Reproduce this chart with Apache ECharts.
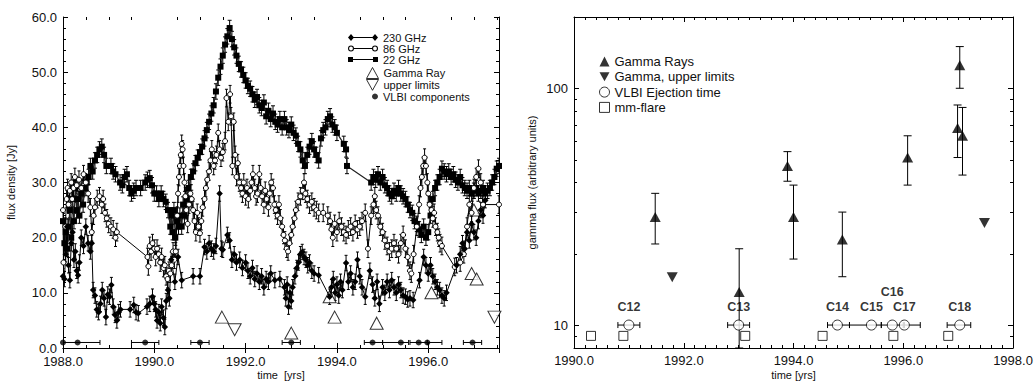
<!DOCTYPE html>
<html>
<head>
<meta charset="utf-8">
<script src="https://cdn.jsdelivr.net/npm/echarts@6/dist/echarts.min.js"></script>
<style>
  html, body { margin: 0; padding: 0; background: #fff; }
  #chart { width: 1034px; height: 381px; }
</style>
</head>
<body>
<div id="chart"></div>
<script>
// ---- left panel: radio light curves [year, Jy] ----
const flux22 = [
  [1988.00,23],[1988.03,19],[1988.06,21],[1988.09,18],[1988.12,22],[1988.15,25],[1988.18,20],[1988.21,27],
  [1988.24,23],[1988.27,29],[1988.30,25],[1988.33,27],[1988.36,24],[1988.40,28],[1988.44,26],[1988.48,29],
  [1988.52,30],[1988.56,31],[1988.60,33],[1988.65,32],[1988.70,34],[1988.75,35],[1988.80,36],[1988.85,36.5],
  [1988.90,35],[1988.95,33],[1989.05,33],[1989.10,32],[1989.15,31.5],[1989.25,30],[1989.30,29.5],[1989.35,31],
  [1989.40,31.5],[1989.45,29],[1989.50,28],[1989.55,28.5],[1989.60,29],[1989.70,29],[1989.80,30],[1989.85,30.5],
  [1989.90,30.8],[1989.95,29.5],[1990.00,28],[1990.05,28],[1990.10,27],[1990.15,28],[1990.20,27],[1990.25,26.5],
  [1990.30,25],[1990.35,22],[1990.38,24],[1990.40,21],[1990.43,25],[1990.46,20],[1990.50,23],[1990.53,22],
  [1990.56,24],[1990.60,22],[1990.63,26],[1990.66,24],[1990.70,27],[1990.75,29],[1990.80,31],[1990.85,32],
  [1990.90,33.5],[1990.95,34.5],[1991.00,35.5],[1991.05,36.5],[1991.10,38],[1991.15,39.5],[1991.20,41],[1991.25,42.5],
  [1991.30,44],[1991.35,46.5],[1991.40,49],[1991.45,51],[1991.50,53],[1991.55,55],[1991.60,56.5],[1991.65,58],
  [1991.70,56],[1991.75,54.5],[1991.80,53],[1991.85,51.5],[1991.90,50.5],[1991.95,49.5],[1992.00,48.5],[1992.05,47.5],
  [1992.10,47],[1992.15,46],[1992.20,45],[1992.25,45.5],[1992.30,44],[1992.35,43.5],[1992.40,44.5],[1992.45,42],
  [1992.50,43],[1992.55,41.5],[1992.60,42.5],[1992.65,41],[1992.70,40.5],[1992.75,41.5],[1992.80,40],[1992.85,41.5],
  [1992.90,40],[1992.95,39.5],[1993.00,40.5],[1993.05,39],[1993.10,38.5],[1993.15,37],[1993.20,36],[1993.25,34],
  [1993.30,33],[1993.35,35],[1993.40,36.5],[1993.45,37.5],[1993.50,36],[1993.55,35],[1993.60,34],[1993.65,38],
  [1993.70,39.5],[1993.75,40],[1993.80,41.5],[1993.85,42],[1993.90,40.5],[1993.95,40],[1994.00,39],[1994.15,37],
  [1994.20,36],[1994.22,33],[1994.75,30],[1994.80,31],[1994.85,30.5],[1994.90,31.5],[1994.95,30],[1995.00,31],
  [1995.05,29.5],[1995.10,29],[1995.15,28],[1995.20,27.5],[1995.25,28.5],[1995.30,28],[1995.35,29],[1995.40,28],
  [1995.45,27.5],[1995.50,27],[1995.55,26],[1995.60,25],[1995.65,24.5],[1995.70,23],[1995.75,22.5],[1995.80,21.5],
  [1995.85,20.5],[1995.90,22],[1995.95,20],[1996.00,21],[1996.05,24],[1996.10,27],[1996.15,29],[1996.20,30],
  [1996.25,31],[1996.30,32.5],[1996.35,32],[1996.40,31.5],[1996.45,32],[1996.50,31],[1996.55,31.5],[1996.60,30.5],
  [1996.65,30],[1996.70,31],[1996.75,29.5],[1996.80,29],[1996.85,28.5],[1996.90,29],[1996.95,28],[1997.00,28.5],
  [1997.05,29],[1997.10,28],[1997.15,28.5],[1997.20,29],[1997.25,28],[1997.30,28.5],[1997.35,29],[1997.40,30],
  [1997.45,31],[1997.50,32.5],[1997.55,33]
];
const flux86 = [
  [1988.00,25],[1988.01,15.5],[1988.05,22],[1988.08,27],[1988.10,29],[1988.12,26],[1988.15,28.5],[1988.18,30],
  [1988.20,27],[1988.23,29],[1988.26,31],[1988.30,29.5],[1988.35,30.5],[1988.40,29],[1988.45,31.5],[1988.50,30],
  [1988.55,28],[1988.60,25.5],[1988.63,21],[1988.67,24],[1988.70,25.5],[1988.75,27],[1988.80,27.5],[1988.85,26],
  [1988.88,27],[1988.92,24.5],[1988.96,23.5],[1989.00,22.5],[1989.05,22],[1989.10,21.5],[1989.15,20],[1989.18,21],
  [1989.85,16.5],[1989.87,14.8],[1989.90,18.5],[1989.93,17.5],[1989.96,19],[1990.00,18],[1990.03,16.5],[1990.06,18],
  [1990.10,17],[1990.13,15.5],[1990.16,16.5],[1990.20,14.5],[1990.23,15],[1990.26,13],[1990.29,12.5],[1990.32,14],
  [1990.35,13.5],[1990.38,15],[1990.41,17.5],[1990.44,16],[1990.47,17.5],[1990.50,24],[1990.52,28],[1990.54,31],
  [1990.56,33],[1990.58,35],[1990.60,37],[1990.62,36],[1990.64,33],[1990.66,30],[1990.68,27.5],[1990.70,25],
  [1990.73,22.5],[1990.76,26],[1990.79,28],[1990.82,27],[1990.85,25],[1990.88,23],[1990.91,21],[1990.94,24.5],
  [1990.97,22],[1991.00,20.8],[1991.03,23],[1991.06,25.5],[1991.10,27],[1991.13,29],[1991.16,30.5],[1991.20,32],
  [1991.23,34],[1991.26,36],[1991.30,33],[1991.33,34],[1991.36,35],[1991.40,39],[1991.43,36],[1991.46,34.5],
  [1991.50,35.5],[1991.55,37.5],[1991.58,45.3],[1991.62,41],[1991.66,46],[1991.68,42],[1991.71,33],[1991.74,41],
  [1991.77,35],[1991.80,31],[1991.83,33.5],[1991.86,30],[1991.90,29],[1991.93,28],[1991.96,30],[1992.00,27.5],
  [1992.03,29],[1992.06,27],[1992.10,28.5],[1992.13,30],[1992.16,31.5],[1992.20,29],[1992.23,27.5],[1992.26,28],
  [1992.30,31.5],[1992.33,29],[1992.36,27.5],[1992.40,26],[1992.43,28.5],[1992.46,27],[1992.50,25.5],[1992.53,28],
  [1992.56,30],[1992.60,29],[1992.63,26],[1992.66,25],[1992.70,24],[1992.73,26],[1992.76,23.5],[1992.80,22],
  [1992.83,20.5],[1992.86,19.5],[1992.90,18],[1992.93,17.5],[1992.96,19],[1993.00,20.5],[1993.03,22],[1993.07,23.5],
  [1993.10,25],[1993.15,26.5],[1993.20,27.5],[1993.25,28.5],[1993.28,30],[1993.31,28],[1993.35,27],[1993.40,26],
  [1993.45,26.5],[1993.50,25.5],[1993.55,25],[1993.60,24.5],[1993.70,24.5],[1993.80,24],[1993.85,23],[1993.88,21.5],
  [1993.91,20],[1993.95,22.5],[1994.00,21],[1994.05,23],[1994.10,22],[1994.15,21],[1994.20,20.5],[1994.25,21.5],
  [1994.30,22],[1994.35,21],[1994.40,22.5],[1994.45,21.5],[1994.50,22],[1994.55,23],[1994.62,24.5],[1994.68,18],
  [1994.75,24],[1994.80,26],[1994.83,27.5],[1994.86,25],[1994.90,24],[1994.95,22],[1995.00,21],[1995.05,19.5],
  [1995.10,18.5],[1995.15,17.5],[1995.20,18],[1995.25,19],[1995.30,18],[1995.35,17],[1995.40,19],[1995.45,20.5],
  [1995.50,18],[1995.55,16.5],[1995.60,14],[1995.63,13.5],[1995.68,17],[1995.75,22],[1995.80,26],[1995.83,29],
  [1995.86,31],[1995.89,33],[1995.92,34.5],[1995.95,33],[1995.98,30],[1996.00,28],[1996.03,26],[1996.07,25],
  [1996.10,23.5],[1996.13,24.5],[1996.16,22],[1996.20,21],[1996.23,20],[1996.26,19],[1996.30,18.5],[1996.58,14.7],
  [1996.70,15.5],[1996.78,17],[1996.85,22],[1996.90,26],[1996.95,24.5],[1997.00,29],[1997.05,31],[1997.10,32.5],
  [1997.15,30],[1997.20,26],[1997.55,26]
];
const flux230 = [
  [1988.00,13],[1988.03,12.5],[1988.06,17],[1988.09,22],[1988.12,15],[1988.15,12.3],[1988.18,19],[1988.21,21],
  [1988.24,16],[1988.27,17.5],[1988.30,14],[1988.33,13.2],[1988.36,15.5],[1988.40,20],[1988.45,18.5],[1988.50,22],
  [1988.55,19],[1988.60,17.5],[1988.63,19],[1988.66,10.5],[1988.70,9.5],[1988.74,7],[1988.78,6.5],[1988.82,8],
  [1988.86,10.5],[1988.90,9],[1988.94,5.6],[1988.98,9.7],[1989.02,9.3],[1989.06,11.4],[1989.10,7.5],[1989.14,6],
  [1989.18,5],[1989.22,6.5],[1989.26,7],[1989.47,7],[1989.55,7.8],[1989.60,6.5],[1989.65,6.3],[1989.84,7.5],
  [1989.90,8],[1989.96,9.3],[1990.00,8],[1990.03,7],[1990.06,5],[1990.10,6.5],[1990.13,4.5],[1990.16,7.5],
  [1990.20,5.5],[1990.23,3.8],[1990.26,8.5],[1990.30,10.5],[1990.33,9],[1990.37,16],[1990.45,12],[1990.52,16.5],
  [1990.60,12.3],[1990.85,13],[1991.00,13],[1991.10,18.3],[1991.15,17.5],[1991.20,19],[1991.25,18],[1991.30,17.5],
  [1991.35,18.5],[1991.43,28],[1991.47,18],[1991.50,17.8],[1991.60,20.5],[1991.65,19.5],[1991.70,16],[1991.75,17],
  [1991.80,15.5],[1991.87,16],[1991.93,14.5],[1992.00,15.5],[1992.05,14],[1992.10,13],[1992.15,14.5],[1992.20,12.5],
  [1992.25,13.5],[1992.30,12],[1992.35,13],[1992.40,11],[1992.45,12.5],[1992.50,12],[1992.55,13.5],[1992.64,12.3],
  [1992.75,12.5],[1992.85,11],[1992.88,9],[1992.91,11.5],[1992.94,7.5],[1992.97,10],[1993.00,8.5],[1993.03,11],
  [1993.08,13],[1993.12,14.5],[1993.16,15.5],[1993.20,17],[1993.24,17.4],[1993.28,16.5],[1993.32,16],[1993.36,15],
  [1993.40,15.5],[1993.45,14],[1993.50,13.5],[1993.60,13.2],[1993.84,9.3],[1993.88,11],[1993.92,12.5],[1993.96,10],
  [1994.00,11.5],[1994.04,9.5],[1994.08,12],[1994.12,10.5],[1994.20,15.4],[1994.25,12],[1994.30,13.5],[1994.35,11],
  [1994.40,12],[1994.45,16],[1994.50,13],[1994.55,11],[1994.62,9.3],[1994.72,14],[1994.78,11.5],[1994.83,9],
  [1994.88,12],[1994.93,8],[1995.00,11],[1995.05,10],[1995.10,12],[1995.15,10.5],[1995.20,12.3],[1995.25,11],
  [1995.30,10],[1995.35,11.5],[1995.40,10.5],[1995.45,9.5],[1995.50,9.3],[1995.55,8.8],[1995.60,9],[1995.67,8.7],
  [1995.81,12.3],[1995.90,16.5],[1995.95,15],[1996.00,13.5],[1996.05,15],[1996.10,13],[1996.15,12],[1996.20,11],
  [1996.25,10.5],[1996.30,9.5],[1996.35,9],[1996.40,10],[1996.62,15],[1996.70,17],[1996.75,19],[1996.80,18],
  [1996.85,21],[1996.90,19.5],[1996.95,22.5],[1997.00,21],[1997.05,20],[1997.10,23],[1997.15,25],[1997.20,24],
  [1997.25,26.8]
];
// typical 1-sigma error of each light curve [Jy]
const err22 = 1.4;
const err86 = 1.6;
const err230 = 1.4;

// gamma-ray points scaled into the left panel [year, Jy]
const gammaLeft = [[1991.48,5.6],[1993.00,2.7],[1993.84,9.3],[1993.95,5.6],[1994.87,4.5],[1996.07,10],[1996.95,13.5],[1997.00,25],[1997.06,12.5]];
const gammaLimitLeft = [[1991.76,3.3],[1997.45,5.6]];

// VLBI components: ejection year with range
const vlbiLeftT = [1988.00, 1988.32, 1989.80, 1991.00, 1993.00, 1994.78, 1995.40, 1995.79, 1995.98, 1996.97];
const vlbiLeftLo = [1988.00, 1988.00, 1989.50, 1990.80, 1992.80, 1994.60, 1995.00, 1995.60, 1995.98, 1996.77];
const vlbiLeftHi = [1988.00, 1988.81, 1990.10, 1991.20, 1993.20, 1995.00, 1995.57, 1995.98, 1996.30, 1997.17];
const vlbiLeftY = 1.0;

// ---- right panel ----
const gammaT  = [1991.48, 1993.01, 1993.89, 1994.00, 1994.89, 1996.08, 1996.99, 1997.03, 1997.08];
const gammaV  = [28.6, 13.8, 47, 28.6, 23, 51, 68, 125, 63];
const gammaLo = [22, 8, 40.5, 19, 16, 39, 51, 100, 43];
const gammaHi = [36, 21, 54, 39, 30, 63, 85, 150, 83];
const limitT = [1991.79, 1997.48];
const limitV = [15.9, 27];

const vlbiNames = ['C12', 'C13', 'C14', 'C15', 'C16', 'C17', 'C18'];
const vlbiT  = [1991.00, 1993.00, 1994.80, 1995.42, 1995.80, 1996.02, 1997.03];
const vlbiLo = [1990.80, 1992.80, 1994.62, 1995.02, 1995.60, 1996.02, 1996.80];
const vlbiHi = [1991.20, 1993.20, 1995.02, 1995.60, 1996.00, 1996.31, 1997.23];
const vlbiY = 10;

const flareT = [1990.31, 1990.90, 1993.12, 1994.53, 1995.82, 1996.82];
const flareY = 9;

// tick positions not produced by the axes themselves
const leftMinorX = [1988.5,1989,1989.5,1990.5,1991,1991.5,1992.5,1993,1993.5,1994.5,1995,1995.5,1996.5,1997,1997.5];
const logMinorY = [9, 20, 30, 40, 50, 60, 70, 80, 90];

const FONT = "'Liberation Sans', Arial, Helvetica, sans-serif";
const INK = '#000';

const chart = echarts.init(document.getElementById('chart'), null, { renderer: 'svg' });

function lineStyleOf(w) { return { stroke: INK, lineWidth: w || 1 }; }

// vertical error bars: data [x, lo, hi]
function vBars(cap) {
  return function (params, api) {
    const x = api.value(0);
    const a = api.coord([x, api.value(1)]);
    const b = api.coord([x, api.value(2)]);
    const s = lineStyleOf(1);
    return { type: 'group', children: [
      { type: 'line', shape: { x1: a[0], y1: a[1], x2: b[0], y2: b[1] }, style: s },
      { type: 'line', shape: { x1: a[0] - cap, y1: a[1], x2: a[0] + cap, y2: a[1] }, style: s },
      { type: 'line', shape: { x1: b[0] - cap, y1: b[1], x2: b[0] + cap, y2: b[1] }, style: s }
    ] };
  };
}

// horizontal error bars: data [y, lo, hi]
function hBars(cap) {
  return function (params, api) {
    const y = api.value(0);
    const a = api.coord([api.value(1), y]);
    const b = api.coord([api.value(2), y]);
    const s = lineStyleOf(1);
    const kids = [{ type: 'line', shape: { x1: a[0], y1: a[1], x2: b[0], y2: b[1] }, style: s }];
    if (b[0] - a[0] > 1) {
      kids.push({ type: 'line', shape: { x1: a[0], y1: a[1] - cap, x2: a[0], y2: a[1] + cap }, style: s });
      kids.push({ type: 'line', shape: { x1: b[0], y1: b[1] - cap, x2: b[0], y2: b[1] + cap }, style: s });
    }
    return { type: 'group', children: kids };
  };
}

// extra inward ticks on both opposite edges of a grid
function edgeTicks(dir, len) {
  return function (params, api) {
    const cs = params.coordSys;
    const p = api.coord([api.value(0), api.value(1)]);
    const s = lineStyleOf(1);
    if (dir === 'x') {
      const x = Math.round(p[0]) + 0.5;
      return { type: 'group', children: [
        { type: 'line', shape: { x1: x, y1: cs.y + cs.height, x2: x, y2: cs.y + cs.height - len }, style: s },
        { type: 'line', shape: { x1: x, y1: cs.y, x2: x, y2: cs.y + len }, style: s }
      ] };
    }
    const y = Math.round(p[1]) + 0.5;
    return { type: 'group', children: [
      { type: 'line', shape: { x1: cs.x, y1: y, x2: cs.x + len, y2: y }, style: s },
      { type: 'line', shape: { x1: cs.x + cs.width, y1: y, x2: cs.x + cs.width - len, y2: y }, style: s }
    ] };
  };
}

const labelText = { color: '#111', fontSize: 13, lineHeight: 12, fontFamily: FONT };
const nameText = { color: '#111', fontSize: 11, lineHeight: 12, fontFamily: FONT };
const tickBase = { inside: true, length: 5, lineStyle: { color: INK } };
const minorBase = { inside: true, length: 3, lineStyle: { color: INK } };
const axisLineBase = { show: true, lineStyle: { color: INK, width: 1 } };

const fixed1 = v => v.toFixed(1);
const logLabel = v => { const r = Math.round(v); return (r === 10 || r === 100) ? String(r) : ''; };

const option = {
  animation: false,
  backgroundColor: '#fff',
  textStyle: { fontFamily: FONT },
  grid: [
    { left: 63, top: 17, width: 436, height: 331, outerBoundsMode: 'none', containLabel: false },
    { left: 574, top: 17, width: 439, height: 331, outerBoundsMode: 'none', containLabel: false }
  ],
  xAxis: [
    { gridIndex: 0, type: 'value', position: 'bottom', min: 1988, max: 1997.55, interval: 2,
      axisLine: axisLineBase, axisTick: tickBase, splitLine: { show: false },
      axisLabel: { ...labelText, formatter: fixed1, margin: 7, showMaxLabel: false },
      name: 'time  [yrs]', nameLocation: 'middle', nameGap: 20.5, nameMoveOverlap: false, nameTextStyle: nameText },
    { gridIndex: 0, type: 'value', position: 'top', min: 1988, max: 1997.55, interval: 2,
      axisLine: axisLineBase, axisTick: tickBase, splitLine: { show: false }, axisLabel: { show: false } },
    { gridIndex: 1, type: 'value', position: 'bottom', min: 1990, max: 1998, interval: 2,
      axisLine: axisLineBase, axisTick: tickBase, minorTick: { ...minorBase, show: true, splitNumber: 10 },
      splitLine: { show: false }, minorSplitLine: { show: false },
      axisLabel: { ...labelText, formatter: fixed1, margin: 6 },
      name: 'time [yrs]', nameLocation: 'middle', nameGap: 20.5, nameMoveOverlap: false, nameTextStyle: nameText },
    { gridIndex: 1, type: 'value', position: 'top', min: 1990, max: 1998, interval: 2,
      axisLine: axisLineBase, axisTick: tickBase, minorTick: { ...minorBase, show: true, splitNumber: 10 },
      splitLine: { show: false }, minorSplitLine: { show: false }, axisLabel: { show: false } }
  ],
  yAxis: [
    { gridIndex: 0, type: 'value', position: 'left', min: 0, max: 60, interval: 10,
      axisLine: axisLineBase, axisTick: tickBase, minorTick: { ...minorBase, show: true, splitNumber: 5 },
      splitLine: { show: false }, minorSplitLine: { show: false },
      axisLabel: { ...labelText, formatter: fixed1, margin: 6 },
      name: 'flux density [Jy]', nameLocation: 'middle', nameGap: 46, nameMoveOverlap: false, nameTextStyle: nameText },
    { gridIndex: 0, type: 'value', position: 'right', min: 0, max: 60, interval: 10,
      axisLine: axisLineBase, axisTick: tickBase, minorTick: { ...minorBase, show: true, splitNumber: 5 },
      splitLine: { show: false }, minorSplitLine: { show: false }, axisLabel: { show: false } },
    { gridIndex: 1, type: 'log', logBase: 10, position: 'left', min: 8, max: 200,
      axisLine: axisLineBase, axisTick: tickBase, splitLine: { show: false },
      axisLabel: { ...labelText, formatter: logLabel, margin: 6 },
      name: 'gamma flux (arbitrary units)', nameLocation: 'middle', nameGap: 36, nameMoveOverlap: false, nameTextStyle: nameText },
    { gridIndex: 1, type: 'log', logBase: 10, position: 'right', min: 8, max: 200,
      axisLine: axisLineBase, axisTick: tickBase, splitLine: { show: false }, axisLabel: { show: false } }
  ],
  legend: [
    { orient: 'vertical', left: 343, top: 27, itemWidth: 30, itemHeight: 8, itemGap: 0, selectedMode: false,
      textStyle: { fontSize: 11, fontFamily: FONT, color: '#111', lineHeight: 11 },
      itemStyle: { color: INK, borderWidth: 0 },
      data: [
        { name: '230 GHz', icon: 'path://M0,4 L3,0.5 L6,4 L3,7.5 Z M3,3.5 L27,3.5 L27,4.5 L3,4.5 Z M24,4 L27,0.5 L30,4 L27,7.5 Z' },
        { name: '86 GHz', icon: 'path://M0,4 A3,3 0 1,1 6,4 A3,3 0 1,1 0,4 Z M1.1,4 A1.9,1.9 0 1,0 4.9,4 A1.9,1.9 0 1,0 1.1,4 Z M6,3.6 L24,3.6 L24,4.4 L6,4.4 Z M24,4 A3,3 0 1,1 30,4 A3,3 0 1,1 24,4 Z M25.1,4 A1.9,1.9 0 1,0 28.9,4 A1.9,1.9 0 1,0 25.1,4 Z' },
        { name: '22 GHz', icon: 'path://M0,1.5 L5,1.5 L5,6.5 L0,6.5 Z M5,3.5 L25,3.5 L25,4.5 L5,4.5 Z M25,1.5 L30,1.5 L30,6.5 L25,6.5 Z' }
      ] },
    { orient: 'vertical', left: 361, top: 62, itemWidth: 12, itemHeight: 11, itemGap: 0, selectedMode: false,
      textStyle: { fontSize: 11, fontFamily: FONT, color: '#111', lineHeight: 11.5 },
      itemStyle: { color: '#fff', borderColor: INK, borderWidth: 1 },
      data: [
        { name: 'Gamma Ray', icon: 'triangle' },
        { name: 'upper limits', icon: 'path://M0,0 L10,0 L5,9 Z' }
      ] },
    { orient: 'vertical', left: 367, top: 86, itemWidth: 6, itemHeight: 6, selectedMode: false,
      textStyle: { fontSize: 11, fontFamily: FONT, color: '#111' },
      itemStyle: { color: INK, borderWidth: 0 },
      data: [{ name: 'VLBI components', icon: 'circle' }] },
    { orient: 'vertical', left: 594, top: 50, itemWidth: 10, itemHeight: 10, itemGap: 2.3, selectedMode: false,
      textStyle: { fontSize: 13, fontFamily: FONT, color: '#111', lineHeight: 13 },
      data: [
        { name: 'Gamma Rays', icon: 'triangle', itemStyle: { color: INK, borderWidth: 0 } },
        { name: 'Gamma, upper limits', icon: 'path://M0,0 L10,0 L5,9 Z', itemStyle: { color: INK, borderWidth: 0 } },
        { name: 'VLBI Ejection time', icon: 'circle', itemStyle: { color: '#fff', borderColor: INK, borderWidth: 1 } },
        { name: 'mm-flare', icon: 'rect', itemStyle: { color: '#fff', borderColor: INK, borderWidth: 1 } }
      ] }
  ],
  series: [
    // left panel error bars
    { type: 'custom', xAxisIndex: 0, yAxisIndex: 0, silent: true, clip: true,
      renderItem: vBars(2), data: flux22.map(p => [p[0], p[1] - err22, p[1] + err22]) },
    { type: 'custom', xAxisIndex: 0, yAxisIndex: 0, silent: true, clip: true,
      renderItem: vBars(1.5), data: flux86.map(p => [p[0], p[1] - err86, p[1] + err86]) },
    { type: 'custom', xAxisIndex: 0, yAxisIndex: 0, silent: true, clip: true,
      renderItem: vBars(1.5), data: flux230.map(p => [p[0], p[1] - err230, p[1] + err230]) },
    // left panel light curves
    { name: '22 GHz', type: 'line', xAxisIndex: 0, yAxisIndex: 0, data: flux22,
      symbol: 'rect', symbolSize: 6, showAllSymbol: true, itemStyle: { color: INK },
      lineStyle: { color: '#222', width: 1.2 }, emphasis: { disabled: true } },
    { name: '86 GHz', type: 'line', xAxisIndex: 0, yAxisIndex: 0, data: flux86,
      symbol: 'circle', symbolSize: 5, showAllSymbol: true,
      itemStyle: { color: '#fff', borderColor: INK, borderWidth: 1 },
      lineStyle: { color: INK, width: 1 }, emphasis: { disabled: true } },
    { name: '230 GHz', type: 'line', xAxisIndex: 0, yAxisIndex: 0, data: flux230,
      symbol: 'diamond', symbolSize: 6.5, showAllSymbol: true, itemStyle: { color: INK },
      lineStyle: { color: INK, width: 1 }, emphasis: { disabled: true } },
    { name: 'Gamma Ray', type: 'scatter', xAxisIndex: 0, yAxisIndex: 0, data: gammaLeft,
      symbol: 'triangle', symbolSize: [13, 12], itemStyle: { color: '#fff', borderColor: INK, borderWidth: 1 },
      emphasis: { disabled: true } },
    { name: 'upper limits', type: 'scatter', xAxisIndex: 0, yAxisIndex: 0, data: gammaLimitLeft,
      symbol: 'path://M0,0 L10,0 L5,9 Z', symbolSize: [13, 12],
      itemStyle: { color: '#fff', borderColor: INK, borderWidth: 1 }, emphasis: { disabled: true } },
    { type: 'custom', xAxisIndex: 0, yAxisIndex: 0, silent: true, clip: true, renderItem: hBars(2.5),
      data: vlbiLeftT.map((t, i) => [vlbiLeftY, vlbiLeftLo[i], vlbiLeftHi[i]]) },
    { name: 'VLBI components', type: 'scatter', xAxisIndex: 0, yAxisIndex: 0,
      data: vlbiLeftT.map(t => [t, vlbiLeftY]), symbol: 'circle', symbolSize: 6,
      itemStyle: { color: INK }, emphasis: { disabled: true } },
    { type: 'custom', xAxisIndex: 0, yAxisIndex: 0, silent: true, renderItem: edgeTicks('x', 3),
      data: leftMinorX.map(t => [t, 0]) },

    // right panel
    { type: 'custom', xAxisIndex: 2, yAxisIndex: 2, silent: true, clip: true, renderItem: vBars(4),
      data: gammaT.map((t, i) => [t, gammaLo[i], gammaHi[i]]) },
    { name: 'Gamma Rays', type: 'scatter', xAxisIndex: 2, yAxisIndex: 2,
      data: gammaT.map((t, i) => [t, gammaV[i]]), symbol: 'triangle', symbolSize: [11, 10],
      itemStyle: { color: INK }, emphasis: { disabled: true } },
    { name: 'Gamma, upper limits', type: 'scatter', xAxisIndex: 2, yAxisIndex: 2,
      data: limitT.map((t, i) => [t, limitV[i]]), symbol: 'path://M0,0 L10,0 L5,9 Z', symbolSize: [11, 10],
      itemStyle: { color: INK }, emphasis: { disabled: true } },
    { type: 'custom', xAxisIndex: 2, yAxisIndex: 2, silent: true, clip: true, renderItem: hBars(3),
      data: vlbiT.map((t, i) => [vlbiY, vlbiLo[i], vlbiHi[i]]) },
    { name: 'VLBI Ejection time', type: 'scatter', xAxisIndex: 2, yAxisIndex: 2,
      data: vlbiT.map((t, i) => ({
        value: [t, vlbiY],
        label: { distance: vlbiNames[i] === 'C16' ? 21 : 6 }
      })),
      symbol: 'circle', symbolSize: 10,
      itemStyle: { color: '#fff', borderColor: INK, borderWidth: 1 },
      label: { show: true, position: 'top', formatter: p => vlbiNames[p.dataIndex],
        fontWeight: 'bold', fontSize: 12.5, fontFamily: FONT, color: INK },
      emphasis: { disabled: true } },
    { name: 'mm-flare', type: 'scatter', xAxisIndex: 2, yAxisIndex: 2,
      data: flareT.map(t => [t, flareY]), symbol: 'rect', symbolSize: 9,
      itemStyle: { color: '#fff', borderColor: INK, borderWidth: 1 }, emphasis: { disabled: true } },
    { type: 'custom', xAxisIndex: 2, yAxisIndex: 2, silent: true, renderItem: edgeTicks('y', 3),
      data: logMinorY.map(v => [1990, v]) }
  ]
};

chart.setOption(option);
</script>
</body>
</html>
